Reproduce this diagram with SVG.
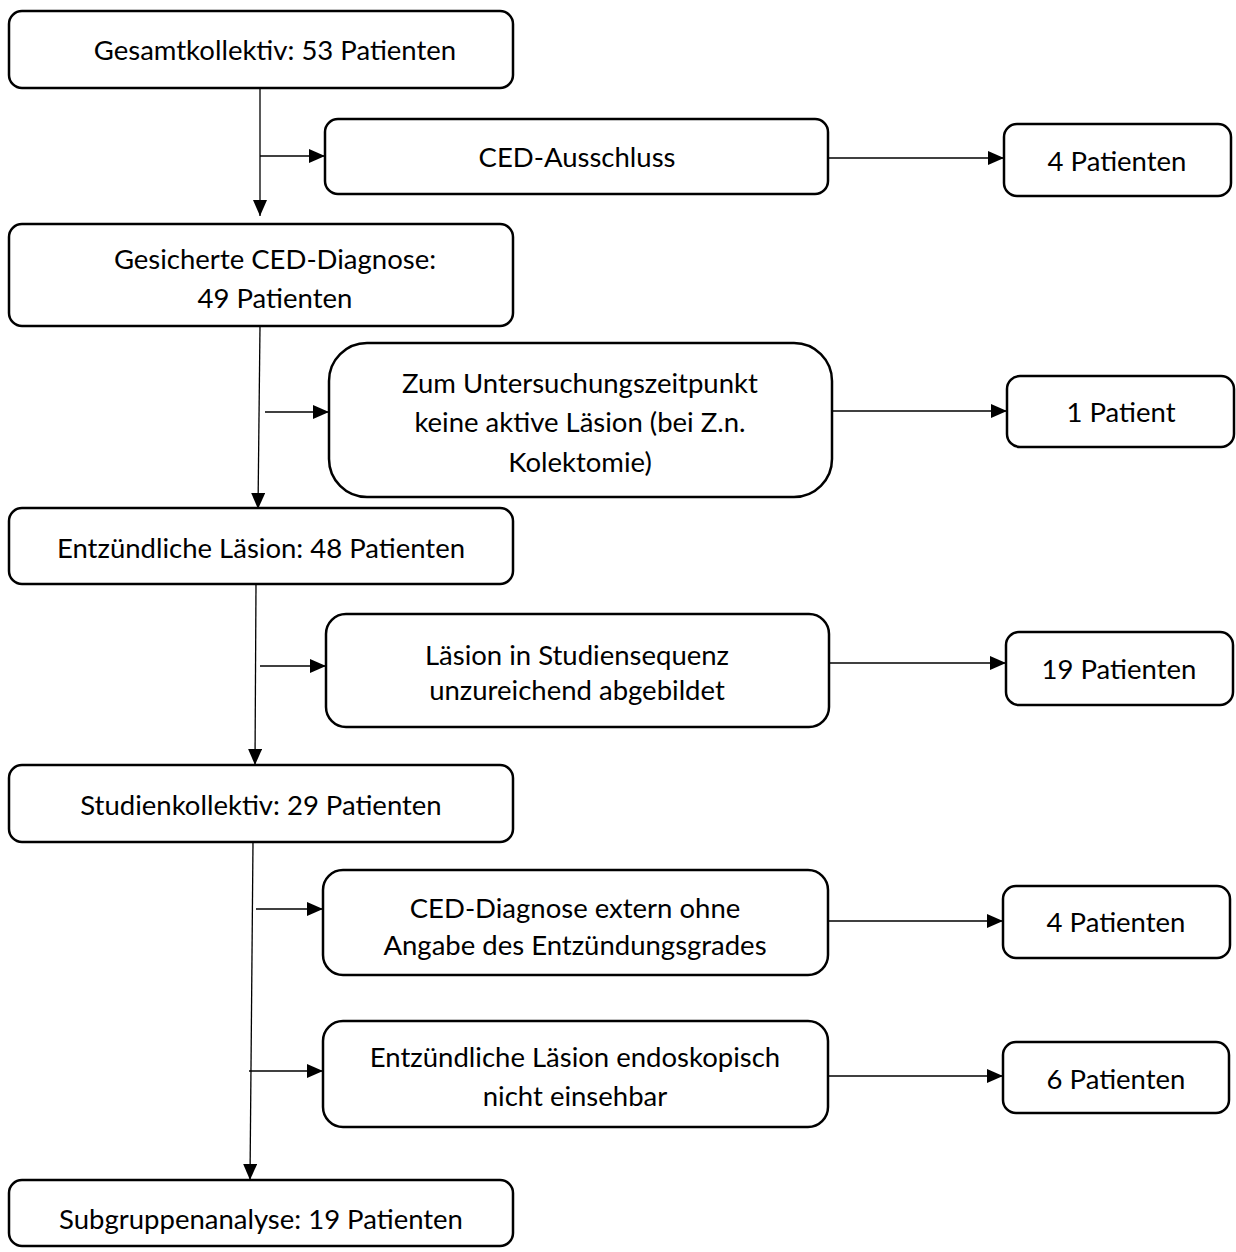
<svg xmlns="http://www.w3.org/2000/svg" width="1236" height="1252" viewBox="0 0 1236 1252">
<style>
.box{fill:#fff;stroke:#000;stroke-width:2.5}
.t{font-family:Lato,"Liberation Sans",sans-serif;font-size:27.5px;fill:#000;text-anchor:middle}
.c{stroke:#000;stroke-width:1.3;fill:none}
</style>
<defs>
<marker id="ah" viewBox="0 0 16 14" refX="16" refY="7" markerWidth="16" markerHeight="14" markerUnits="userSpaceOnUse" orient="auto">
<path d="M0,0 L16,7 L0,14 Z" fill="#000"/>
</marker>
</defs>
<rect width="1236" height="1252" fill="#fff"/>
<g id="connectors">
<line class="c" x1="260" y1="88" x2="260" y2="216" marker-end="url(#ah)"/>
<line class="c" x1="260" y1="156" x2="325" y2="156" marker-end="url(#ah)"/>
<line class="c" x1="828" y1="158" x2="1004" y2="158" marker-end="url(#ah)"/>
<line class="c" x1="260" y1="326" x2="258" y2="509" marker-end="url(#ah)"/>
<line class="c" x1="265" y1="412" x2="329" y2="412" marker-end="url(#ah)"/>
<line class="c" x1="832" y1="411" x2="1007" y2="411" marker-end="url(#ah)"/>
<line class="c" x1="256" y1="584" x2="255" y2="765" marker-end="url(#ah)"/>
<line class="c" x1="260" y1="666" x2="326" y2="666" marker-end="url(#ah)"/>
<line class="c" x1="829" y1="663" x2="1006" y2="663" marker-end="url(#ah)"/>
<line class="c" x1="253" y1="842" x2="250" y2="1180" marker-end="url(#ah)"/>
<line class="c" x1="256" y1="909" x2="323" y2="909" marker-end="url(#ah)"/>
<line class="c" x1="828" y1="921" x2="1003" y2="921" marker-end="url(#ah)"/>
<line class="c" x1="249" y1="1071" x2="323" y2="1071" marker-end="url(#ah)"/>
<line class="c" x1="828" y1="1076" x2="1003" y2="1076" marker-end="url(#ah)"/>
</g>
<g id="n1"><rect class="box" x="9" y="11" width="504" height="77" rx="13"/><text class="t" x="275" y="60">Gesamtkollektiv: 53 Patienten</text></g>
<g id="n2"><rect class="box" x="325" y="119" width="503" height="75" rx="13"/><text class="t" x="577" y="167">CED-Ausschluss</text></g>
<g id="n3"><rect class="box" x="1004" y="124" width="227" height="72" rx="13"/><text class="t" x="1117" y="171">4 Patienten</text></g>
<g id="n4"><rect class="box" x="9" y="224" width="504" height="102" rx="13"/><text class="t" x="275" y="269">Gesicherte CED-Diagnose:</text><text class="t" x="275" y="308">49 Patienten</text></g>
<g id="n5"><rect class="box" x="329" y="343" width="503" height="154" rx="38"/><text class="t" x="580" y="393">Zum Untersuchungszeitpunkt</text><text class="t" x="580" y="432">keine aktive Läsion (bei Z.n.</text><text class="t" x="580" y="472">Kolektomie)</text></g>
<g id="n6"><rect class="box" x="1007" y="376" width="227" height="71" rx="13"/><text class="t" x="1121" y="422">1 Patient</text></g>
<g id="n7"><rect class="box" x="9" y="508" width="504" height="76" rx="13"/><text class="t" x="261" y="558">Entzündliche Läsion: 48 Patienten</text></g>
<g id="n8"><rect class="box" x="326" y="614" width="503" height="113" rx="20"/><text class="t" x="577" y="665">Läsion in Studiensequenz</text><text class="t" x="577" y="700">unzureichend abgebildet</text></g>
<g id="n9"><rect class="box" x="1006" y="632" width="227" height="73" rx="13"/><text class="t" x="1119" y="679">19 Patienten</text></g>
<g id="n10"><rect class="box" x="9" y="765" width="504" height="77" rx="13"/><text class="t" x="261" y="815">Studienkollektiv: 29 Patienten</text></g>
<g id="n11"><rect class="box" x="323" y="870" width="505" height="105" rx="20"/><text class="t" x="575" y="918">CED-Diagnose extern ohne</text><text class="t" x="575" y="955">Angabe des Entzündungsgrades</text></g>
<g id="n12"><rect class="box" x="1003" y="886" width="227" height="72" rx="13"/><text class="t" x="1116" y="932">4 Patienten</text></g>
<g id="n13"><rect class="box" x="323" y="1021" width="505" height="106" rx="20"/><text class="t" x="575" y="1067">Entzündliche Läsion endoskopisch</text><text class="t" x="575" y="1106">nicht einsehbar</text></g>
<g id="n14"><rect class="box" x="1003" y="1042" width="226" height="71" rx="13"/><text class="t" x="1116" y="1089">6 Patienten</text></g>
<g id="n15"><rect class="box" x="9" y="1180" width="504" height="66" rx="13"/><text class="t" x="261" y="1229">Subgruppenanalyse: 19 Patienten</text></g>
</svg>
